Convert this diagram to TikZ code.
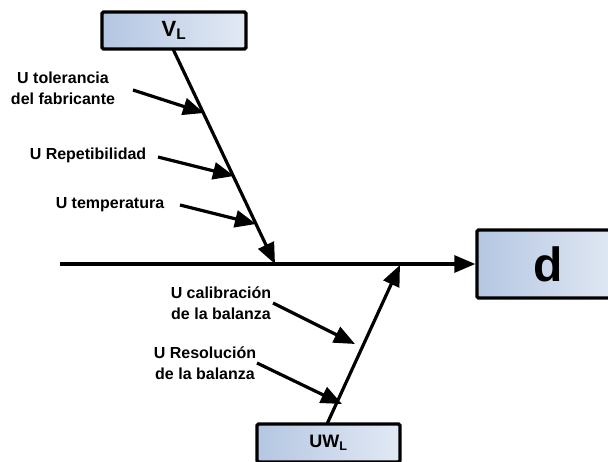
\documentclass[tikz,border=0pt]{standalone}
\usepackage{fontspec}
\setmainfont{Liberation Sans}
\usetikzlibrary{arrows.meta}
\begin{document}
\begin{tikzpicture}[x=1pt,y=-1pt,
  box/.style={draw=black,line width=3.4pt,rounded corners=1.5pt,left color=boxL,right color=boxR,inner sep=0pt},
  lbl/.style={font=\bfseries\fontsize{16}{21}\selectfont,align=center,inner sep=0pt},
  bone/.style={line width=3.2pt,-{Triangle[length=21pt,width=17pt]}},
  sub/.style={line width=3.2pt,-{Triangle[length=21pt,width=17pt]}}]
\definecolor{boxL}{HTML}{B4C6E2}
\definecolor{boxR}{HTML}{E2E9F4}
\useasboundingbox (0,0) rectangle (608,461);
\clip (0,0) rectangle (608,461);
% boxes
\node[box,minimum width=144pt,minimum height=37pt] (vl) at (174,30.5) {\bfseries\fontsize{22}{24}\selectfont V\textsubscript{L}};
\node[box,minimum width=143pt,minimum height=68pt] (d) at (548.5,264) {\bfseries\fontsize{48}{52}\selectfont d};
\node[box,minimum width=143pt,minimum height=38pt] (uw) at (328.5,443) {\bfseries\fontsize{18}{22}\selectfont UW\textsubscript{L}};
% spine
\coordinate (s0) at (60,264);
\draw[bone] (s0) -- (d.west);
% bones
\coordinate (v0) at (173,49);
\coordinate (t1) at (275,264);
\draw[bone] (v0) -- (t1);
\coordinate (u0) at (327,424);
\coordinate (t2) at (400,265);
\draw[bone] (u0) -- (t2);
% labels
\node[lbl] (a) at (63,88) {U tolerancia\\del fabricante};
\node[lbl] (b) at (88,155) {U Repetibilidad};
\node[lbl] (c) at (110,205) {U temperatura};
\node[lbl] (e) at (221,303) {U calibración\\de la balanza};
\node[lbl] (f) at (205,363) {U Resolución\\de la balanza};
% sub arrows
\coordinate (a0) at (133,90);  \coordinate (a1) at (204,113);
\coordinate (b0) at (158,157); \coordinate (b1) at (234,176);
\coordinate (c0) at (180,205); \coordinate (c1) at (256,224);
\coordinate (e0) at (273,303); \coordinate (e1) at (355,344);
\coordinate (f0) at (257,363); \coordinate (f1) at (342,404);
\draw[sub] (a0) -- (a1);
\draw[sub] (b0) -- (b1);
\draw[sub] (c0) -- (c1);
\draw[sub] (e0) -- (e1);
\draw[sub] (f0) -- (f1);
\end{tikzpicture}
\end{document}
